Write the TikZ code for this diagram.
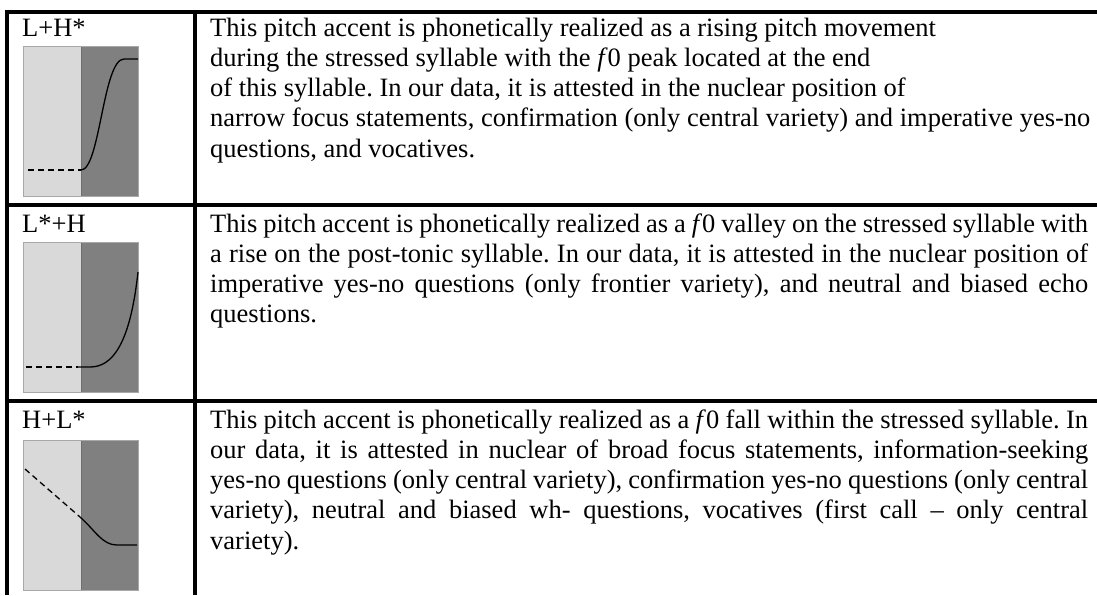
\documentclass[tikz,border=0pt]{standalone}
\usepackage{fontspec}
\setmainfont{Liberation Serif}
\usetikzlibrary{positioning}

\newcommand{\fnull}{\textit{f}0}
\newcommand{\jline}[1]{\hbox to 878pt{#1}}

\begin{document}
\frenchspacing
\begin{tikzpicture}[x=1pt,y=-1pt,
    rule/.style={line width=4pt},
    acclabel/.style={anchor=base west, inner sep=0pt, font=\fontsize{26.5}{30}\selectfont},
    accline/.style={anchor=base west, inner sep=0pt, font=\fontsize{26.5}{30}\selectfont},
    contour/.style={line width=1.3pt},
    guide/.style={line width=1.3pt, dash pattern=on 6pt off 4pt}]
            \useasboundingbox (0,0) rectangle (1097,595);
            \definecolor{sylpre}{HTML}{D9D9D9}
            \definecolor{sylstr}{HTML}{808080}
            \definecolor{syledge}{HTML}{A8A8A8}
            \definecolor{sylsplit}{HTML}{6E6E6E}

            % table rules
            \draw[rule] (5,12) -- (1097,12);
            \draw[rule] (7,10) -- (7,595);
            \draw[rule] (194.5,12) -- (194.5,595);
            \draw[rule] (5,205) -- (1097,205);
            \draw[rule] (5,401) -- (1097,401);

            % syllable boxes
            \foreach \t in {46,242,440} {
                \fill[sylpre] (23,\t) rectangle (81,\t+150);
                \fill[sylstr] (81,\t) rectangle (138,\t+150);
                \draw[sylsplit, line width=0.8pt] (81,\t) -- (81,\t+150);
                \draw[syledge, line width=0.8pt] (23,\t) rectangle (138,\t+150);
            }

            % L+H*
            \draw[guide] (28,170) -- (81,170);
            \draw[contour] (81,170) .. controls (100,170) and (103,59) .. (124,59) -- (138,59);
            % L*+H
            \draw[guide] (26,367) -- (78,367);
            \draw[contour] (78,367) -- (90,367) .. controls (112,367) and (130,345) .. (138,272);
            % H+L*
            \draw[guide] (25,469) -- (80,517);
            \draw[contour] (80,517) .. controls (95,530) and (102,545) .. (117,545) -- (137,545);

            \node[acclabel] (acc1) at (22,36) {L+H*};
            \node[acclabel] (acc2) at (22,232) {L*+H};
            \node[acclabel] (acc3) at (22,428) {H+L*};

            \node[accline] (l11) at (210,36) {This pitch accent is phonetically realized as a rising pitch movement};
            \node[accline] (l12) at (210,66.3) {during the stressed syllable with the \fnull\ peak located at the end};
            \node[accline] (l13) at (210,96.6) {of this syllable. In our data, it is attested in the nuclear position of};
            \node[accline] (l14) at (210,126.9) {narrow focus statements, confirmation (only central variety) and imperative yes-no};
            \node[accline] (l15) at (210,157.2) {questions, and vocatives.};

            \node[accline] (l21) at (210,232) {\jline{This pitch accent is phonetically realized as a \fnull\ valley on the stressed syllable with}};
            \node[accline] (l22) at (210,262.3) {\jline{a rise on the post-tonic syllable. In our data, it is attested in the nuclear position of}};
            \node[accline] (l23) at (210,292.6) {\jline{imperative yes-no questions (only frontier variety), and neutral and biased echo}};
            \node[accline] (l24) at (210,322.9) {questions.};

            \node[accline] (l31) at (210,428) {\jline{This pitch accent is phonetically realized as a \fnull\ fall within the stressed syllable. In}};
            \node[accline] (l32) at (210,458.3) {\jline{our data, it is attested in nuclear of broad focus statements, information-seeking}};
            \node[accline] (l33) at (210,488.6) {\jline{yes-no questions (only central variety), confirmation yes-no questions (only central}};
            \node[accline] (l34) at (210,518.9) {\jline{variety), neutral and biased wh- questions, vocatives (first call – only central}};
            \node[accline] (l35) at (210,549.2) {variety).};
        \end{tikzpicture}
\end{document}
